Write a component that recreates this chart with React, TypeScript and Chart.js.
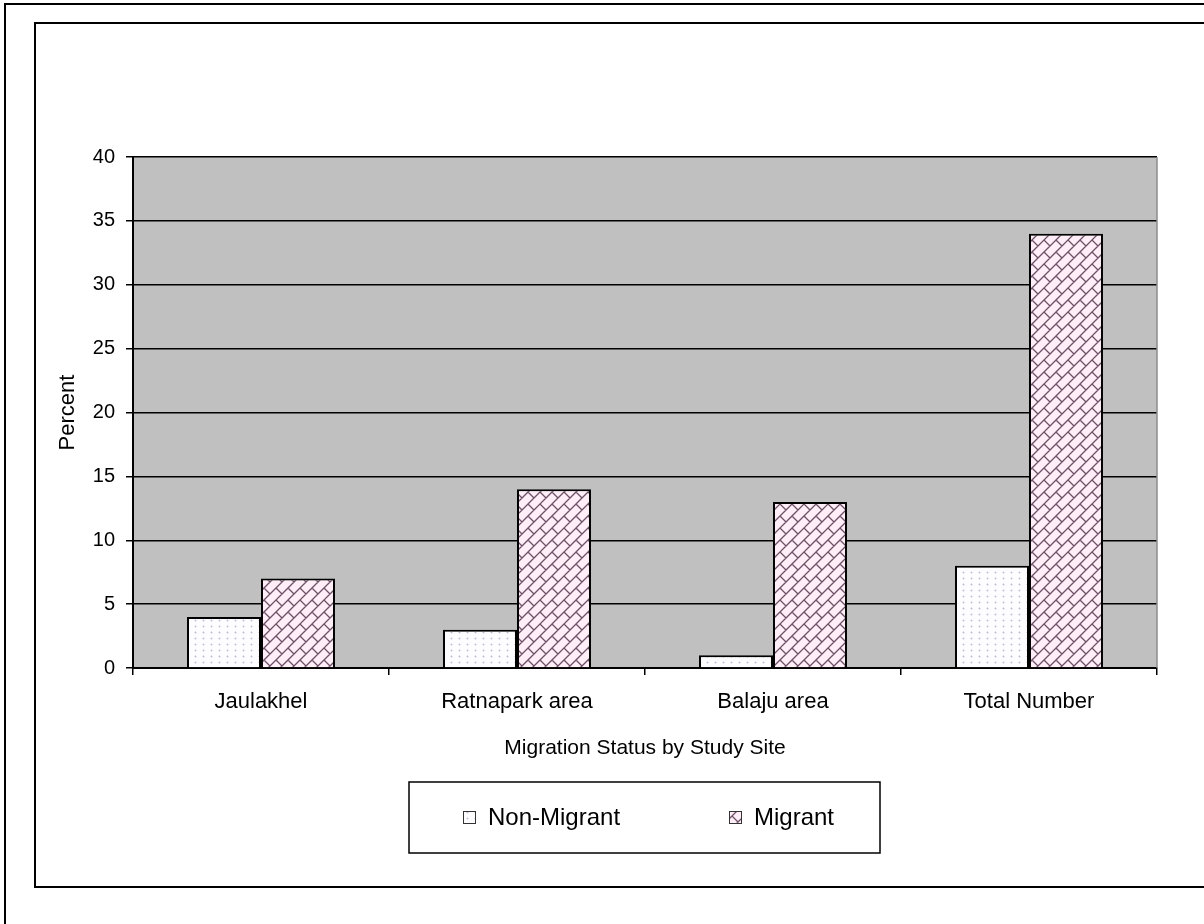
import React, { useEffect, useRef } from "react";
import { Chart, registerables } from "chart.js";

Chart.register(...registerables);

const categories = ["Jaulakhel", "Ratnapark area", "Balaju area", "Total Number"];
const nonMigrant = [4, 3, 1, 8];
const migrant = [7, 14, 13, 34];
const seriesNames = ["Non-Migrant", "Migrant"];
const yMin = 0;
const yMax = 40;
const yStep = 5;
const xTitle = "Migration Status by Study Site";
const yTitle = "Percent";

const FONT = "'Liberation Sans', Arial, sans-serif";

function makeDotPattern(ctx: CanvasRenderingContext2D) {
  const c = document.createElement("canvas");
  c.width = 8;
  c.height = 6;
  const g = c.getContext("2d")!;
  g.fillStyle = "#FDFCFF";
  g.fillRect(0, 0, 8, 6);
  g.fillStyle = "#C9C2D8";
  g.fillRect(3, 2, 1, 1);
  g.fillStyle = "#E2DDEB";
  g.fillRect(2, 2, 1, 1);
  g.fillRect(4, 2, 1, 1);
  g.fillRect(3, 1, 1, 1);
  g.fillRect(3, 3, 1, 1);
  return ctx.createPattern(c, "repeat")!;
}

function makeBrickPattern(ctx: CanvasRenderingContext2D) {
  const S = 24;
  const c = document.createElement("canvas");
  c.width = S;
  c.height = S;
  const g = c.getContext("2d")!;
  g.fillStyle = "#FFEEF7";
  g.fillRect(0, 0, S, S);
  g.strokeStyle = "#6B5066";
  g.lineWidth = 1.3;
  const toXY = (u: number, v: number) => [(u + v) / 2, (u - v) / 2];
  g.beginPath();
  for (let k = -8; k <= 8; k++) {
    const u0 = 12 * k;
    const [x1, y1] = toXY(u0, -200);
    const [x2, y2] = toXY(u0, 200);
    g.moveTo(x1, y1);
    g.lineTo(x2, y2);
    for (let m = -8; m <= 8; m++) {
      const v = 24 * m + (Math.abs(k) % 2 === 1 ? 12 : 0);
      const [a1, b1] = toXY(u0, v);
      const [a2, b2] = toXY(u0 + 12, v);
      g.moveTo(a1, b1);
      g.lineTo(a2, b2);
    }
  }
  g.stroke();
  return ctx.createPattern(c, "repeat")!;
}

export default function App() {
  const ref = useRef<HTMLCanvasElement | null>(null);

  useEffect(() => {
    const canvas = ref.current!;
    const ctx = canvas.getContext("2d")!;
    const dotPat = makeDotPattern(ctx);
    const brickPat = makeBrickPattern(ctx);

    const decor = {
      id: "decor",
      beforeDraw(chart: any) {
        const { ctx: c, chartArea: a } = chart;
        c.save();
        c.fillStyle = "#ffffff";
        c.fillRect(0, 0, chart.width, chart.height);
        c.fillStyle = "#C0C0C0";
        c.fillRect(a.left, a.top, a.right - a.left, a.bottom - a.top);
        c.restore();
      },
      afterDraw(chart: any) {
        const { ctx: c, chartArea: a } = chart;
        c.save();
        c.strokeStyle = "#8C8C8C";
        c.lineWidth = 1.5;
        c.beginPath();
        c.moveTo(a.right, a.top);
        c.lineTo(a.right, a.bottom);
        c.stroke();
        c.strokeStyle = "#000";
        c.lineWidth = 2;
        c.strokeRect(5, 4, 1300, 1000);
        c.strokeRect(35, 23, 1300, 864);
        c.fillStyle = "#000";
        c.font = `21px ${FONT}`;
        c.textAlign = "center";
        c.textBaseline = "middle";
        c.fillText(xTitle, (a.left + a.right) / 2, 748);
        c.save();
        c.font = `22px ${FONT}`;
        c.translate(68, (a.top + a.bottom) / 2);
        c.rotate(-Math.PI / 2);
        c.fillText(yTitle, 0, 0);
        c.restore();
        c.lineWidth = 1.5;
        c.strokeStyle = "#000";
        c.strokeRect(409, 782, 471, 71);
        const items = [
          { x: 463, pat: dotPat, name: seriesNames[0] },
          { x: 729, pat: brickPat, name: seriesNames[1] },
        ];
        c.font = `24px ${FONT}`;
        c.textAlign = "left";
        c.textBaseline = "middle";
        for (const it of items) {
          c.fillStyle = it.pat;
          c.fillRect(it.x, 811, 13, 13);
          c.lineWidth = 1;
          c.strokeStyle = "#333";
          c.strokeRect(it.x + 0.5, 811.5, 12, 12);
          c.fillStyle = "#000";
          c.fillText(it.name, it.x + 25, 818);
        }
        c.restore();
      },
    };

    const chart = new Chart(canvas, {
      type: "bar",
      data: {
        labels: categories,
        datasets: [
          {
            label: seriesNames[0],
            data: nonMigrant,
            backgroundColor: dotPat as any,
            borderColor: "#000",
            borderWidth: 2,
            borderSkipped: "bottom",
            barPercentage: 1,
            categoryPercentage: 0.578,
          },
          {
            label: seriesNames[1],
            data: migrant,
            backgroundColor: brickPat as any,
            borderColor: "#000",
            borderWidth: 2,
            borderSkipped: "bottom",
            barPercentage: 1,
            categoryPercentage: 0.578,
          },
        ],
      },
      options: {
        responsive: false,
        animation: false,
        devicePixelRatio: 1,
        layout: { padding: { top: 157, right: 47, left: 0, bottom: 0 } },
        plugins: {
          legend: { display: false },
          tooltip: { enabled: false },
          title: { display: false },
        },
        scales: {
          x: {
            grid: {
              offset: true,
              drawOnChartArea: false,
              drawTicks: true,
              tickLength: 7,
              color: "#000",
              lineWidth: 1.5,
            },
            border: { color: "#000", width: 2 },
            ticks: {
              color: "#000",
              font: { family: FONT, size: 22 },
              padding: 14,
              maxRotation: 0,
              autoSkip: false,
            },
            afterFit: (s: any) => {
              s.height = 256;
            },
          },
          y: {
            min: yMin,
            max: yMax,
            grid: {
              color: "#000",
              lineWidth: 1.5,
              tickLength: 7,
            },
            border: { color: "#000", width: 2 },
            ticks: {
              stepSize: yStep,
              color: "#000",
              font: { family: FONT, size: 20 },
              padding: 11,
            },
            afterFit: (s: any) => {
              s.width = 133;
            },
          },
        },
      },
      plugins: [decor],
    });

    return () => chart.destroy();
  }, []);

  return (
    <div style={{ position: "fixed", left: 0, top: 0, width: 1204, height: 924, background: "#fff" }}>
      <canvas ref={ref} width={1204} height={924} style={{ display: "block" }} />
    </div>
  );
}
